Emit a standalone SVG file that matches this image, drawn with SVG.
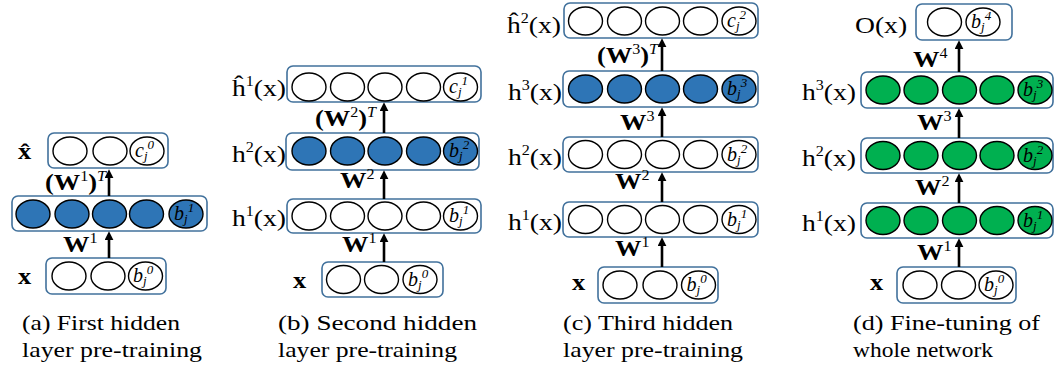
<svg xmlns="http://www.w3.org/2000/svg" width="1055" height="370" viewBox="0 0 1055 370">
<style>
.box{fill:#fff;stroke:#41719C;stroke-width:1.6}
.n{fill:#fff;stroke:#000;stroke-width:1.4}
.bl{fill:#2E75B6}
.gr{fill:#00B050}
.arr{stroke:#000;stroke-width:2.6;fill:none;marker-end:url(#ah)}
text{font-family:'Liberation Serif','Times New Roman',Times,serif;fill:#000}
.lbl{font-size:24px}
.w{font-size:23px;font-weight:bold}
.sup{font-size:14px;font-weight:normal}
.it{font-style:italic}
.bj{font-size:20px;font-style:italic}
.s{font-size:13px}
.cap{font-size:22px}
</style>
<defs>
<marker id="ah" viewBox="0 0 10 10" refX="3" refY="5" markerWidth="9" markerHeight="9" markerUnits="userSpaceOnUse" orient="auto">
<path d="M0,0 L10,5 L0,10 z" fill="#000"/>
</marker>
</defs>

<!-- ===== Panel (a) ===== -->
<g id="a-xhat">
<rect class="box" x="48" y="133" width="120" height="35" rx="6"/>
<ellipse class="n" cx="70" cy="151" rx="17" ry="14"/>
<ellipse class="n" cx="110" cy="151" rx="17" ry="14"/>
<ellipse class="n" cx="147" cy="151" rx="17" ry="14"/>
<text class="bj" x="135" y="157">c<tspan class="s" dy="3">j</tspan><tspan class="s" dy="-11">0</tspan></text>
<text class="w" transform="translate(18,159) scale(1.15,1)">x&#x302;</text>
</g>
<g id="a-h1">
<rect class="box" x="12" y="196" width="195" height="35" rx="6"/>
<ellipse class="n bl" cx="33" cy="214" rx="17" ry="14"/>
<ellipse class="n bl" cx="72" cy="214" rx="17" ry="14"/>
<ellipse class="n bl" cx="109.5" cy="214" rx="17" ry="14"/>
<ellipse class="n bl" cx="146.5" cy="214" rx="17" ry="14"/>
<ellipse class="n bl" cx="186" cy="214" rx="17" ry="14"/>
<text class="bj" x="174" y="220">b<tspan class="s" dy="3">j</tspan><tspan class="s" dy="-11">1</tspan></text>
</g>
<g id="a-x">
<rect class="box" x="46" y="258" width="120" height="36" rx="6"/>
<ellipse class="n" cx="69" cy="276" rx="17" ry="14"/>
<ellipse class="n" cx="108" cy="276" rx="17" ry="14"/>
<ellipse class="n" cx="145.5" cy="276" rx="17" ry="14"/>
<text class="bj" x="133" y="282">b<tspan class="s" dy="3">j</tspan><tspan class="s" dy="-11">0</tspan></text>
<text class="w" transform="translate(18,284) scale(1.15,1)">x</text>
</g>

<!-- ===== Panel (b) ===== -->
<g id="b-h1hat">
<rect class="box" x="287" y="66" width="194" height="36" rx="6"/>
<ellipse class="n" cx="309" cy="87" rx="17" ry="14"/>
<ellipse class="n" cx="347.5" cy="87" rx="17" ry="14"/>
<ellipse class="n" cx="385" cy="87" rx="17" ry="14"/>
<ellipse class="n" cx="423.5" cy="87" rx="17" ry="14"/>
<ellipse class="n" cx="460.5" cy="87" rx="17" ry="14"/>
<text class="bj" x="449" y="93">c<tspan class="s" dy="3">j</tspan><tspan class="s" dy="-11">1</tspan></text>
<text class="lbl" transform="translate(232,96) scale(1.15,1)">ĥ<tspan class="sup" dy="-10">1</tspan><tspan dy="10">(x)</tspan></text>
</g>
<g id="b-h2">
<rect class="box" x="286" y="133" width="193" height="37" rx="6"/>
<ellipse class="n bl" cx="309" cy="151" rx="17" ry="14"/>
<ellipse class="n bl" cx="347.5" cy="151" rx="17" ry="14"/>
<ellipse class="n bl" cx="385" cy="151" rx="17" ry="14"/>
<ellipse class="n bl" cx="423.5" cy="151" rx="17" ry="14"/>
<ellipse class="n bl" cx="460.5" cy="151" rx="17" ry="14"/>
<text class="bj" x="449" y="157">b<tspan class="s" dy="3">j</tspan><tspan class="s" dy="-11">2</tspan></text>
<text class="lbl" transform="translate(232,162) scale(1.15,1)">h<tspan class="sup" dy="-10">2</tspan><tspan dy="10">(x)</tspan></text>
</g>
<g id="b-h1">
<rect class="box" x="287" y="199" width="194" height="34" rx="6"/>
<ellipse class="n" cx="309" cy="216" rx="17" ry="14"/>
<ellipse class="n" cx="347.5" cy="216" rx="17" ry="14"/>
<ellipse class="n" cx="385" cy="216" rx="17" ry="14"/>
<ellipse class="n" cx="423.5" cy="216" rx="17" ry="14"/>
<ellipse class="n" cx="460.5" cy="216" rx="17" ry="14"/>
<text class="bj" x="449" y="222">b<tspan class="s" dy="3">j</tspan><tspan class="s" dy="-11">1</tspan></text>
<text class="lbl" transform="translate(232,226) scale(1.15,1)">h<tspan class="sup" dy="-10">1</tspan><tspan dy="10">(x)</tspan></text>
</g>
<g id="b-x">
<rect class="box" x="322" y="262" width="121" height="35" rx="6"/>
<ellipse class="n" cx="343.5" cy="279.5" rx="17" ry="14"/>
<ellipse class="n" cx="381.5" cy="279.5" rx="17" ry="14"/>
<ellipse class="n" cx="420" cy="279.5" rx="17" ry="14"/>
<text class="bj" x="408" y="285.5">b<tspan class="s" dy="3">j</tspan><tspan class="s" dy="-11">0</tspan></text>
<text class="w" transform="translate(293,288) scale(1.15,1)">x</text>
</g>

<!-- ===== Panel (c) ===== -->
<g id="c-h2hat">
<rect class="box" x="564" y="3" width="194" height="35" rx="6"/>
<ellipse class="n" cx="585.5" cy="21" rx="17" ry="14"/>
<ellipse class="n" cx="624.5" cy="21" rx="17" ry="14"/>
<ellipse class="n" cx="662.5" cy="21" rx="17" ry="14"/>
<ellipse class="n" cx="700.5" cy="21" rx="17" ry="14"/>
<ellipse class="n" cx="739" cy="21" rx="17" ry="14"/>
<text class="bj" x="727" y="27">c<tspan class="s" dy="3">j</tspan><tspan class="s" dy="-11">2</tspan></text>
<text class="lbl" transform="translate(507,33) scale(1.15,1)">ĥ<tspan class="sup" dy="-10">2</tspan><tspan dy="10">(x)</tspan></text>
</g>
<g id="c-h3">
<rect class="box" x="563" y="71" width="195" height="36" rx="6"/>
<ellipse class="n bl" cx="585.5" cy="89" rx="17" ry="14"/>
<ellipse class="n bl" cx="624.5" cy="89" rx="17" ry="14"/>
<ellipse class="n bl" cx="662.5" cy="89" rx="17" ry="14"/>
<ellipse class="n bl" cx="700.5" cy="89" rx="17" ry="14"/>
<ellipse class="n bl" cx="739" cy="89" rx="17" ry="14"/>
<text class="bj" x="727" y="95">b<tspan class="s" dy="3">j</tspan><tspan class="s" dy="-11">3</tspan></text>
<text class="lbl" transform="translate(508,100) scale(1.15,1)">h<tspan class="sup" dy="-10">3</tspan><tspan dy="10">(x)</tspan></text>
</g>
<g id="c-h2">
<rect class="box" x="563" y="137" width="195" height="35" rx="6"/>
<ellipse class="n" cx="585.5" cy="154.5" rx="17" ry="14"/>
<ellipse class="n" cx="624.5" cy="154.5" rx="17" ry="14"/>
<ellipse class="n" cx="662.5" cy="154.5" rx="17" ry="14"/>
<ellipse class="n" cx="700.5" cy="154.5" rx="17" ry="14"/>
<ellipse class="n" cx="739" cy="154.5" rx="17" ry="14"/>
<text class="bj" x="727" y="160.5">b<tspan class="s" dy="3">j</tspan><tspan class="s" dy="-11">2</tspan></text>
<text class="lbl" transform="translate(508,165) scale(1.15,1)">h<tspan class="sup" dy="-10">2</tspan><tspan dy="10">(x)</tspan></text>
</g>
<g id="c-h1">
<rect class="box" x="563" y="202" width="195" height="35" rx="6"/>
<ellipse class="n" cx="585.5" cy="219.5" rx="17" ry="14"/>
<ellipse class="n" cx="624.5" cy="219.5" rx="17" ry="14"/>
<ellipse class="n" cx="662.5" cy="219.5" rx="17" ry="14"/>
<ellipse class="n" cx="700.5" cy="219.5" rx="17" ry="14"/>
<ellipse class="n" cx="739" cy="219.5" rx="17" ry="14"/>
<text class="bj" x="727" y="225.5">b<tspan class="s" dy="3">j</tspan><tspan class="s" dy="-11">1</tspan></text>
<text class="lbl" transform="translate(508,230) scale(1.15,1)">h<tspan class="sup" dy="-10">1</tspan><tspan dy="10">(x)</tspan></text>
</g>
<g id="c-x">
<rect class="box" x="598" y="267" width="120" height="36" rx="6"/>
<ellipse class="n" cx="620" cy="285" rx="17" ry="14"/>
<ellipse class="n" cx="660" cy="285" rx="17" ry="14"/>
<ellipse class="n" cx="698.5" cy="285" rx="17" ry="14"/>
<text class="bj" x="686.5" y="291">b<tspan class="s" dy="3">j</tspan><tspan class="s" dy="-11">0</tspan></text>
<text class="w" transform="translate(572,290) scale(1.15,1)">x</text>
</g>

<!-- ===== Panel (d) ===== -->
<g id="d-out">
<rect class="box" x="916" y="4" width="96" height="36" rx="6"/>
<ellipse class="n" cx="944.5" cy="22" rx="17" ry="14"/>
<ellipse class="n" cx="983" cy="22" rx="17" ry="14"/>
<text class="bj" x="971" y="28">b<tspan class="s" dy="3">j</tspan><tspan class="s" dy="-11">4</tspan></text>
<text class="lbl" transform="translate(855,33) scale(1.15,1)">O(x)</text>
</g>
<g id="d-h3">
<rect class="box" x="861" y="72" width="192" height="36" rx="6"/>
<ellipse class="n gr" cx="883" cy="90" rx="17" ry="14"/>
<ellipse class="n gr" cx="921" cy="90" rx="17" ry="14"/>
<ellipse class="n gr" cx="959.5" cy="90" rx="17" ry="14"/>
<ellipse class="n gr" cx="997" cy="90" rx="17" ry="14"/>
<ellipse class="n gr" cx="1035" cy="90" rx="17" ry="14"/>
<text class="bj" x="1023" y="96">b<tspan class="s" dy="3">j</tspan><tspan class="s" dy="-11">3</tspan></text>
<text class="lbl" transform="translate(802,100) scale(1.15,1)">h<tspan class="sup" dy="-10">3</tspan><tspan dy="10">(x)</tspan></text>
</g>
<g id="d-h2">
<rect class="box" x="861" y="138" width="192" height="35" rx="6"/>
<ellipse class="n gr" cx="883" cy="155.5" rx="17" ry="14"/>
<ellipse class="n gr" cx="921" cy="155.5" rx="17" ry="14"/>
<ellipse class="n gr" cx="959.5" cy="155.5" rx="17" ry="14"/>
<ellipse class="n gr" cx="997" cy="155.5" rx="17" ry="14"/>
<ellipse class="n gr" cx="1035" cy="155.5" rx="17" ry="14"/>
<text class="bj" x="1023" y="161.5">b<tspan class="s" dy="3">j</tspan><tspan class="s" dy="-11">2</tspan></text>
<text class="lbl" transform="translate(802,166) scale(1.15,1)">h<tspan class="sup" dy="-10">2</tspan><tspan dy="10">(x)</tspan></text>
</g>
<g id="d-h1">
<rect class="box" x="861" y="203" width="192" height="35" rx="6"/>
<ellipse class="n gr" cx="883" cy="220.5" rx="17" ry="14"/>
<ellipse class="n gr" cx="921" cy="220.5" rx="17" ry="14"/>
<ellipse class="n gr" cx="959.5" cy="220.5" rx="17" ry="14"/>
<ellipse class="n gr" cx="997" cy="220.5" rx="17" ry="14"/>
<ellipse class="n gr" cx="1035" cy="220.5" rx="17" ry="14"/>
<text class="bj" x="1023" y="226.5">b<tspan class="s" dy="3">j</tspan><tspan class="s" dy="-11">1</tspan></text>
<text class="lbl" transform="translate(802,231) scale(1.15,1)">h<tspan class="sup" dy="-10">1</tspan><tspan dy="10">(x)</tspan></text>
</g>
<g id="d-x">
<rect class="box" x="897" y="267" width="119" height="36" rx="6"/>
<ellipse class="n" cx="920" cy="285" rx="17" ry="14"/>
<ellipse class="n" cx="958.5" cy="285" rx="17" ry="14"/>
<ellipse class="n" cx="996" cy="285" rx="17" ry="14"/>
<text class="bj" x="984" y="291">b<tspan class="s" dy="3">j</tspan><tspan class="s" dy="-11">0</tspan></text>
<text class="w" transform="translate(870,290) scale(1.15,1)">x</text>
</g>

<!-- ===== Connectors ===== -->
<g id="connectors">
<line class="arr" x1="109" y1="196" x2="109" y2="175.5"/>
<line class="arr" x1="109" y1="258" x2="109" y2="237.5"/>
<line class="arr" x1="384" y1="133" x2="384" y2="108.5"/>
<line class="arr" x1="384" y1="199" x2="384" y2="176.5"/>
<line class="arr" x1="384" y1="262" x2="384" y2="239.5"/>
<line class="arr" x1="662" y1="71" x2="662" y2="44.5"/>
<line class="arr" x1="662" y1="137" x2="662" y2="113.5"/>
<line class="arr" x1="662" y1="202" x2="662" y2="178.5"/>
<line class="arr" x1="662" y1="267" x2="662" y2="243.5"/>
<line class="arr" x1="959" y1="72" x2="959" y2="46.5"/>
<line class="arr" x1="959" y1="138" x2="959" y2="114.5"/>
<line class="arr" x1="959" y1="203" x2="959" y2="179.5"/>
<line class="arr" x1="959" y1="267" x2="959" y2="244.5"/>
</g>

<!-- ===== Weight labels ===== -->
<g id="weights">
<text class="w" transform="translate(45,190) scale(1.15,1)">(W<tspan class="sup" dy="-9">1</tspan><tspan dy="9">)</tspan><tspan class="sup it" dy="-9">T</tspan></text>
<text class="w" transform="translate(63,252) scale(1.15,1)">W<tspan class="sup" dy="-9">1</tspan></text>
<text class="w" transform="translate(315,126) scale(1.15,1)">(W<tspan class="sup" dy="-9">2</tspan><tspan dy="9">)</tspan><tspan class="sup it" dy="-9">T</tspan></text>
<text class="w" transform="translate(340,188) scale(1.15,1)">W<tspan class="sup" dy="-9">2</tspan></text>
<text class="w" transform="translate(342,252) scale(1.15,1)">W<tspan class="sup" dy="-9">1</tspan></text>
<text class="w" transform="translate(597,63) scale(1.15,1)">(W<tspan class="sup" dy="-9">3</tspan><tspan dy="9">)</tspan><tspan class="sup it" dy="-9">T</tspan></text>
<text class="w" transform="translate(620,130) scale(1.15,1)">W<tspan class="sup" dy="-9">3</tspan></text>
<text class="w" transform="translate(615,189) scale(1.15,1)">W<tspan class="sup" dy="-9">2</tspan></text>
<text class="w" transform="translate(615,256) scale(1.15,1)">W<tspan class="sup" dy="-9">1</tspan></text>
<text class="w" transform="translate(913,67) scale(1.15,1)">W<tspan class="sup" dy="-9">4</tspan></text>
<text class="w" transform="translate(917,130) scale(1.15,1)">W<tspan class="sup" dy="-9">3</tspan></text>
<text class="w" transform="translate(915,195) scale(1.15,1)">W<tspan class="sup" dy="-9">2</tspan></text>
<text class="w" transform="translate(917,260) scale(1.15,1)">W<tspan class="sup" dy="-9">1</tspan></text>
</g>

<!-- ===== Captions ===== -->
<g id="captions">
<text class="cap" x="22" y="330" textLength="158" lengthAdjust="spacingAndGlyphs">(a) First hidden</text>
<text class="cap" x="22" y="357" textLength="180" lengthAdjust="spacingAndGlyphs">layer pre-training</text>
<text class="cap" x="278" y="330" textLength="199" lengthAdjust="spacingAndGlyphs">(b) Second hidden</text>
<text class="cap" x="278" y="357" textLength="179" lengthAdjust="spacingAndGlyphs">layer pre-training</text>
<text class="cap" x="563" y="330" textLength="170" lengthAdjust="spacingAndGlyphs">(c) Third hidden</text>
<text class="cap" x="563" y="357" textLength="180" lengthAdjust="spacingAndGlyphs">layer pre-training</text>
<text class="cap" x="853" y="330" textLength="187" lengthAdjust="spacingAndGlyphs">(d) Fine-tuning of</text>
<text class="cap" x="853" y="357" textLength="140" lengthAdjust="spacingAndGlyphs">whole network</text>
</g>
</svg>
